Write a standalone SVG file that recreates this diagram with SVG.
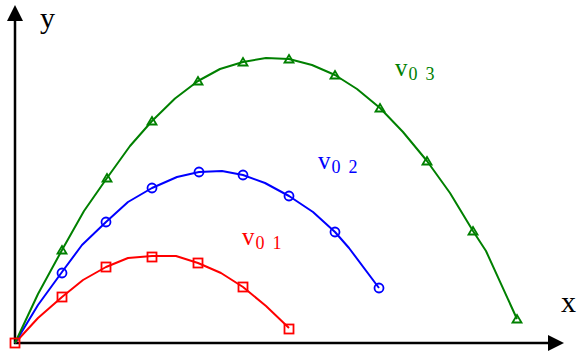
<svg xmlns="http://www.w3.org/2000/svg" xmlns:xlink="http://www.w3.org/1999/xlink" width="579" height="353" viewBox="0 0 579 353">
<style>
.axis{stroke:#000;stroke-width:2.5;fill:none}
.curve{fill:none;stroke-width:2;stroke-linejoin:round}
.mk{fill:none;stroke-width:1.8}
.lbl{font-family:"Liberation Serif","Times New Roman",serif}
.v{font-size:25px}
.sub{font-size:18px}
.red{stroke:#ff0000}
.blue{stroke:#0000ff}
.green{stroke:#008000}
</style>
<defs>
<rect id="sq" x="-4.5" y="-4.5" width="9" height="9" class="mk red"/>
<circle id="ci" r="4.5" class="mk blue"/>
<path id="tr" d="M-4.5,3.5 L4.5,3.5 L0,-4 Z" class="mk green"/>
</defs>
<rect width="579" height="353" fill="#fff"/>
<g id="axes">
<line class="axis" x1="15" y1="344" x2="15" y2="18"/>
<polygon points="15,5 7,21 23,21" fill="#000"/>
<line class="axis" x1="14" y1="343" x2="550" y2="343"/>
<polygon points="564,343 548,335 548,351" fill="#000"/>
</g>
<g id="axis-labels" class="lbl">
<text x="40" y="28" font-size="30">y</text>
<text x="561" y="312" font-size="30">x</text>
</g>
<g id="connectors">
<polyline class="curve red" points="15,343 38,318 62,297 83,280 106,267 128,258 152,256 176,256 198,263 221,273 243,287 266,306 289,328"/>
<polyline class="curve blue" points="15,343 38,305 62,272 82,245 106,222 128,202 152,188 177,177 199,172 222,171 243,175 265,183 289,196 313,212 335,232 349,248 379,288"/>
<polyline class="curve green" points="15,343 38,294 62,250 84,211 107,178 130,146 152,121 175,98.5 198,81 220,69 243,62 266,58 289,59 312,65 335,75 357,89 380,108 403,132 427,161 450,193 473,231 486,251 517,319"/>
</g>
<g id="v01">
<use xlink:href="#sq" x="15" y="343"/><use xlink:href="#sq" x="62" y="297"/><use xlink:href="#sq" x="106" y="267"/><use xlink:href="#sq" x="152" y="257"/><use xlink:href="#sq" x="198" y="263"/><use xlink:href="#sq" x="243" y="287"/><use xlink:href="#sq" x="289" y="329"/>
<text class="lbl v" x="242" y="245" fill="#ff0000">v<tspan class="sub" dx="1" dy="4">0</tspan><tspan class="sub" dx="8">1</tspan></text>
</g>
<g id="v02">
<use xlink:href="#ci" x="62" y="273"/><use xlink:href="#ci" x="106" y="222"/><use xlink:href="#ci" x="152" y="188"/><use xlink:href="#ci" x="199" y="172"/><use xlink:href="#ci" x="243" y="175"/><use xlink:href="#ci" x="289" y="196"/><use xlink:href="#ci" x="335" y="232"/><use xlink:href="#ci" x="379" y="288"/>
<text class="lbl v" x="318" y="169" fill="#0000ff">v<tspan class="sub" dx="1" dy="4">0</tspan><tspan class="sub" dx="8">2</tspan></text>
</g>
<g id="v03">
<use xlink:href="#tr" x="62" y="250"/><use xlink:href="#tr" x="107" y="178"/><use xlink:href="#tr" x="152" y="121"/><use xlink:href="#tr" x="198" y="81"/><use xlink:href="#tr" x="243" y="62"/><use xlink:href="#tr" x="289" y="59"/><use xlink:href="#tr" x="335" y="75"/><use xlink:href="#tr" x="380" y="108"/><use xlink:href="#tr" x="427" y="161"/><use xlink:href="#tr" x="473" y="231"/><use xlink:href="#tr" x="517" y="319"/>
<text class="lbl v" x="395" y="76" fill="#008000">v<tspan class="sub" dx="1" dy="4">0</tspan><tspan class="sub" dx="8">3</tspan></text>
</g>
</svg>
